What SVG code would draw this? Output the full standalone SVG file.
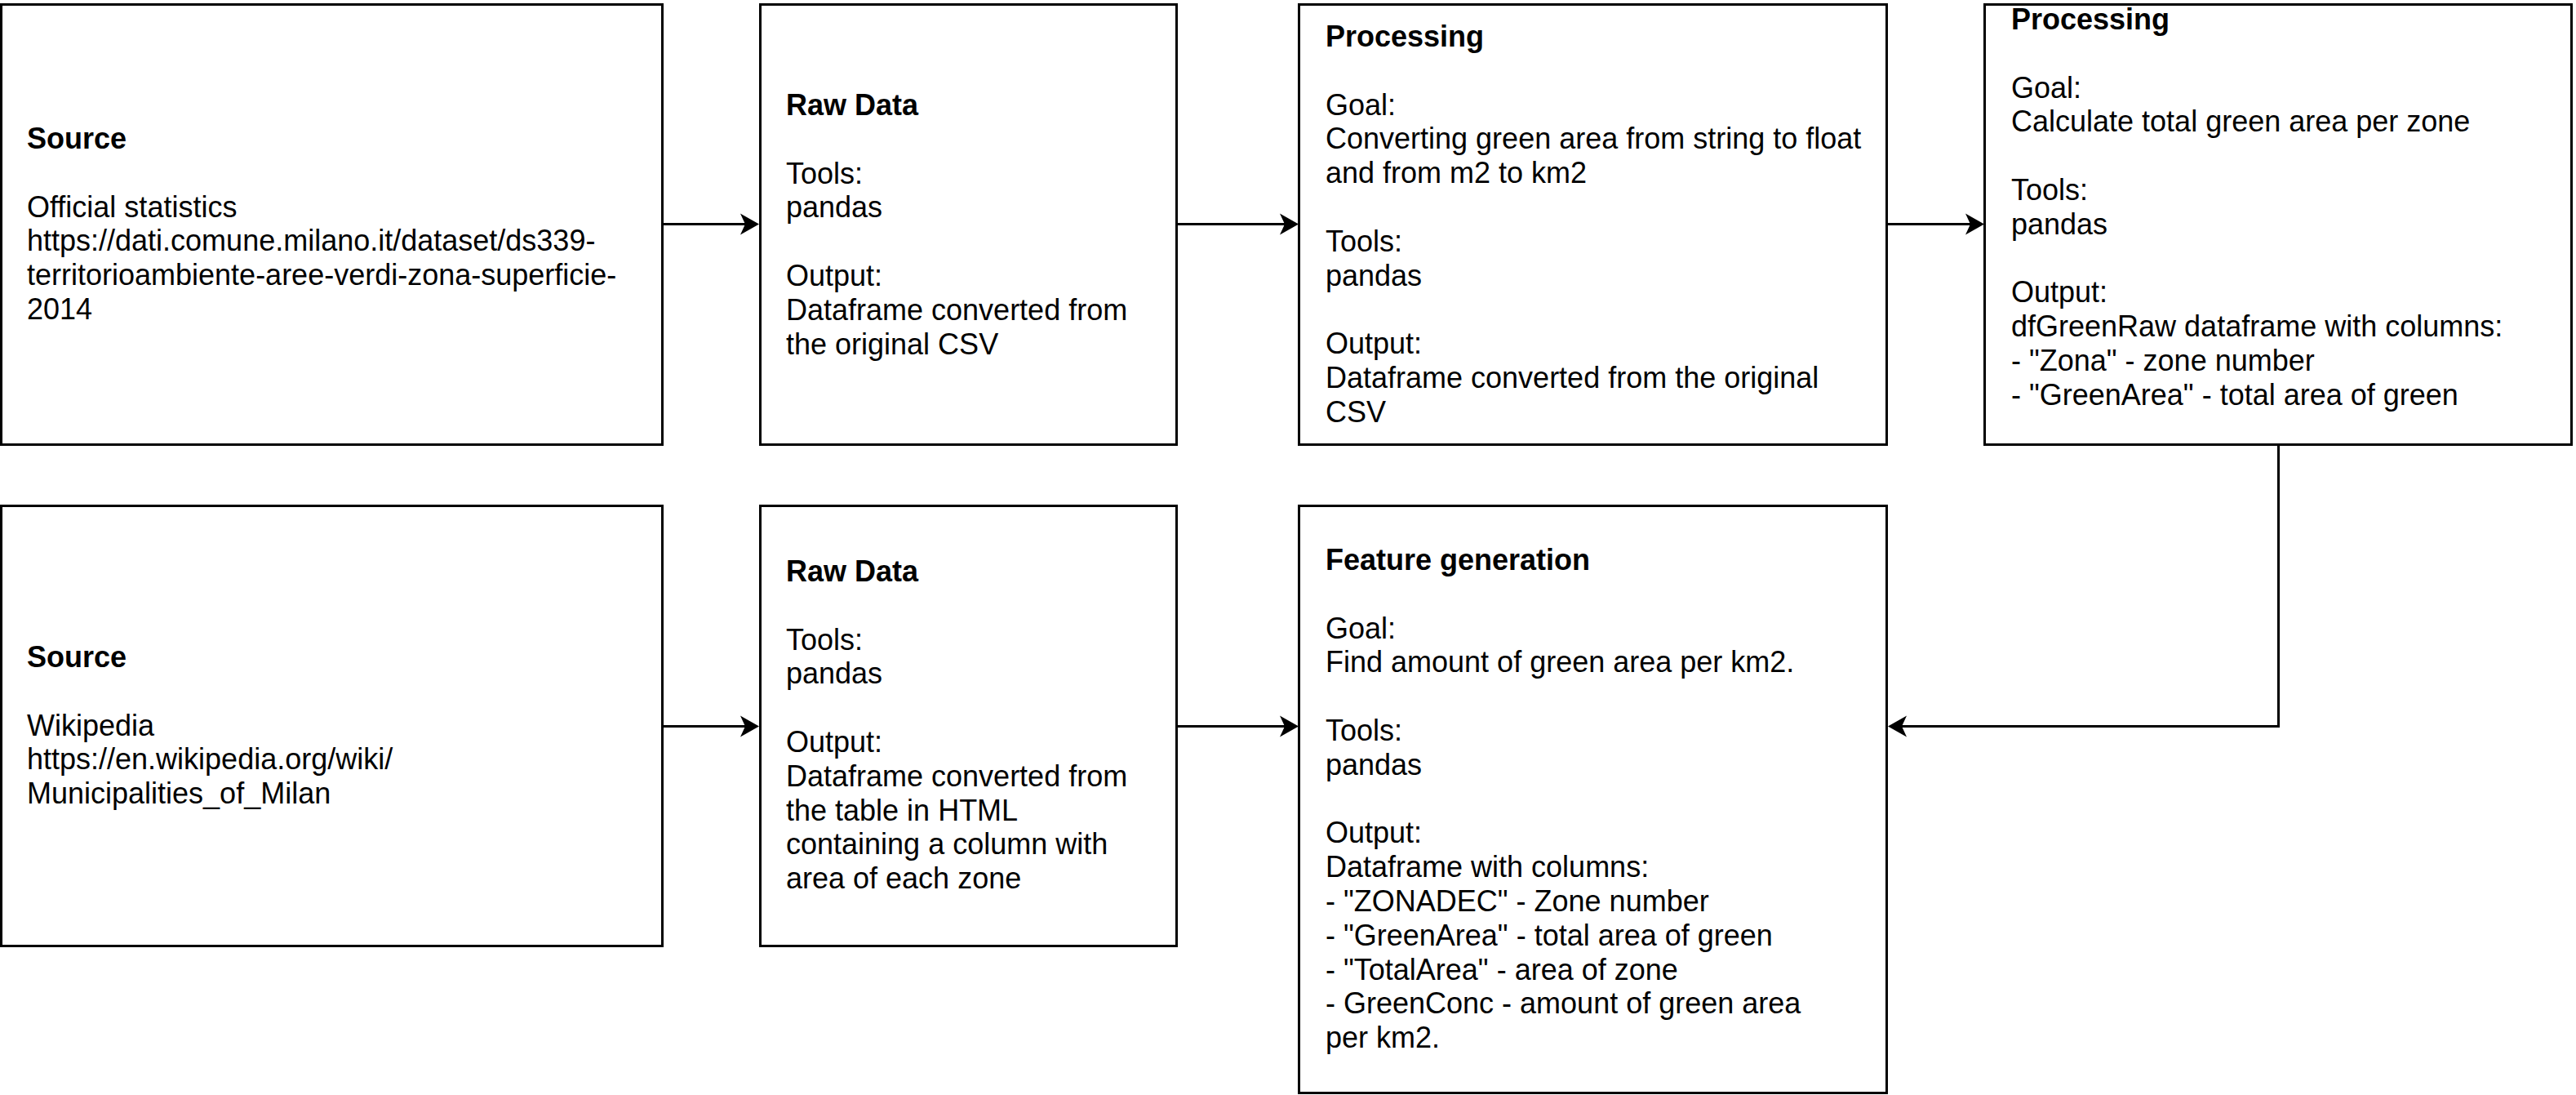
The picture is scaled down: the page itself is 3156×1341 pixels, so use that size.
<svg xmlns="http://www.w3.org/2000/svg" width="3156" height="1341" viewBox="0 0 3156 1341">
  <style>
    .box { fill: #ffffff; stroke: #000000; stroke-width: 3; }
    .edge { fill: none; stroke: #000000; stroke-width: 3; }
    .txt { font-family: "Liberation Sans", Arial, Helvetica, sans-serif; font-size: 36px; fill: #000000; }
    .ttl { font-weight: bold; }
  </style>
  <defs>
    <marker id="arrow" markerUnits="userSpaceOnUse" markerWidth="26" markerHeight="30" viewBox="0 -15 26 30" refX="6" refY="0" orient="auto">
      <path d="M23 0 L0 -13 L6 0 L0 13 Z" fill="#000000"/>
    </marker>
  </defs>
  <rect width="3156" height="1341" fill="#ffffff"/>

  <!-- connectors -->
  <g id="connectors">
    <path class="edge" d="M811.5 274.5 H913" marker-end="url(#arrow)"/>
    <path class="edge" d="M1441.5 274.5 H1574" marker-end="url(#arrow)"/>
    <path class="edge" d="M2311.5 274.5 H2414" marker-end="url(#arrow)"/>
    <path class="edge" d="M2791.5 544.5 V889.5 H2330" marker-end="url(#arrow)"/>
    <path class="edge" d="M811.5 889.5 H913" marker-end="url(#arrow)"/>
    <path class="edge" d="M1441.5 889.5 H1574" marker-end="url(#arrow)"/>
  </g>

  <!-- row 1 -->
  <g id="source-official">
    <rect class="box" x="1.5" y="5.5" width="810" height="539"/>
    <text class="txt">
      <tspan class="ttl" x="33" y="182">Source</tspan>
      <tspan x="33" y="265.6">Official statistics</tspan>
      <tspan x="33" y="307.4">https://dati.comune.milano.it/dataset/ds339-</tspan>
      <tspan x="33" y="349.2">territorioambiente-aree-verdi-zona-superficie-</tspan>
      <tspan x="33" y="391">2014</tspan>
    </text>
  </g>

  <g id="raw-data-csv">
    <rect class="box" x="931.5" y="5.5" width="510" height="539"/>
    <text class="txt">
      <tspan class="ttl" x="963" y="141">Raw Data</tspan>
      <tspan x="963" y="224.6">Tools:</tspan>
      <tspan x="963" y="266.4">pandas</tspan>
      <tspan x="963" y="350">Output:</tspan>
      <tspan x="963" y="391.8">Dataframe converted from</tspan>
      <tspan x="963" y="433.6">the original CSV</tspan>
    </text>
  </g>

  <g id="processing-convert">
    <rect class="box" x="1591.5" y="5.5" width="720" height="539"/>
    <text class="txt">
      <tspan class="ttl" x="1624" y="57">Processing</tspan>
      <tspan x="1624" y="140.6">Goal:</tspan>
      <tspan x="1624" y="182.4">Converting green area from string to float</tspan>
      <tspan x="1624" y="224.2">and from m2 to km2</tspan>
      <tspan x="1624" y="307.8">Tools:</tspan>
      <tspan x="1624" y="349.6">pandas</tspan>
      <tspan x="1624" y="433.2">Output:</tspan>
      <tspan x="1624" y="475">Dataframe converted from the original</tspan>
      <tspan x="1624" y="516.8">CSV</tspan>
    </text>
  </g>

  <g id="processing-total">
    <rect class="box" x="2431.5" y="5.5" width="719" height="539"/>
    <text class="txt">
      <tspan class="ttl" x="2464" y="36">Processing</tspan>
      <tspan x="2464" y="119.6">Goal:</tspan>
      <tspan x="2464" y="161.4">Calculate total green area per zone</tspan>
      <tspan x="2464" y="245">Tools:</tspan>
      <tspan x="2464" y="286.8">pandas</tspan>
      <tspan x="2464" y="370.4">Output:</tspan>
      <tspan x="2464" y="412.2">dfGreenRaw dataframe with columns:</tspan>
      <tspan x="2464" y="454">- "Zona" - zone number</tspan>
      <tspan x="2464" y="495.8">- "GreenArea" - total area of green</tspan>
    </text>
  </g>

  <!-- row 2 -->
  <g id="source-wikipedia">
    <rect class="box" x="1.5" y="619.5" width="810" height="539"/>
    <text class="txt">
      <tspan class="ttl" x="33" y="817">Source</tspan>
      <tspan x="33" y="900.6">Wikipedia</tspan>
      <tspan x="33" y="942.4">https://en.wikipedia.org/wiki/</tspan>
      <tspan x="33" y="984.2">Municipalities_of_Milan</tspan>
    </text>
  </g>

  <g id="raw-data-html">
    <rect class="box" x="931.5" y="619.5" width="510" height="539"/>
    <text class="txt">
      <tspan class="ttl" x="963" y="712">Raw Data</tspan>
      <tspan x="963" y="795.6">Tools:</tspan>
      <tspan x="963" y="837.4">pandas</tspan>
      <tspan x="963" y="921">Output:</tspan>
      <tspan x="963" y="962.8">Dataframe converted from</tspan>
      <tspan x="963" y="1004.6">the table in HTML</tspan>
      <tspan x="963" y="1046.4">containing a column with</tspan>
      <tspan x="963" y="1088.2">area of each zone</tspan>
    </text>
  </g>

  <g id="feature-generation">
    <rect class="box" x="1591.5" y="619.5" width="720" height="719"/>
    <text class="txt">
      <tspan class="ttl" x="1624" y="698">Feature generation</tspan>
      <tspan x="1624" y="781.6">Goal:</tspan>
      <tspan x="1624" y="823.4">Find amount of green area per km2.</tspan>
      <tspan x="1624" y="907">Tools:</tspan>
      <tspan x="1624" y="948.8">pandas</tspan>
      <tspan x="1624" y="1032.4">Output:</tspan>
      <tspan x="1624" y="1074.2">Dataframe with columns:</tspan>
      <tspan x="1624" y="1116">- "ZONADEC" - Zone number</tspan>
      <tspan x="1624" y="1157.8">- "GreenArea" - total area of green</tspan>
      <tspan x="1624" y="1199.6">- "TotalArea" - area of zone</tspan>
      <tspan x="1624" y="1241.4">- GreenConc - amount of green area</tspan>
      <tspan x="1624" y="1283.2">per km2.</tspan>
    </text>
  </g>
</svg>
